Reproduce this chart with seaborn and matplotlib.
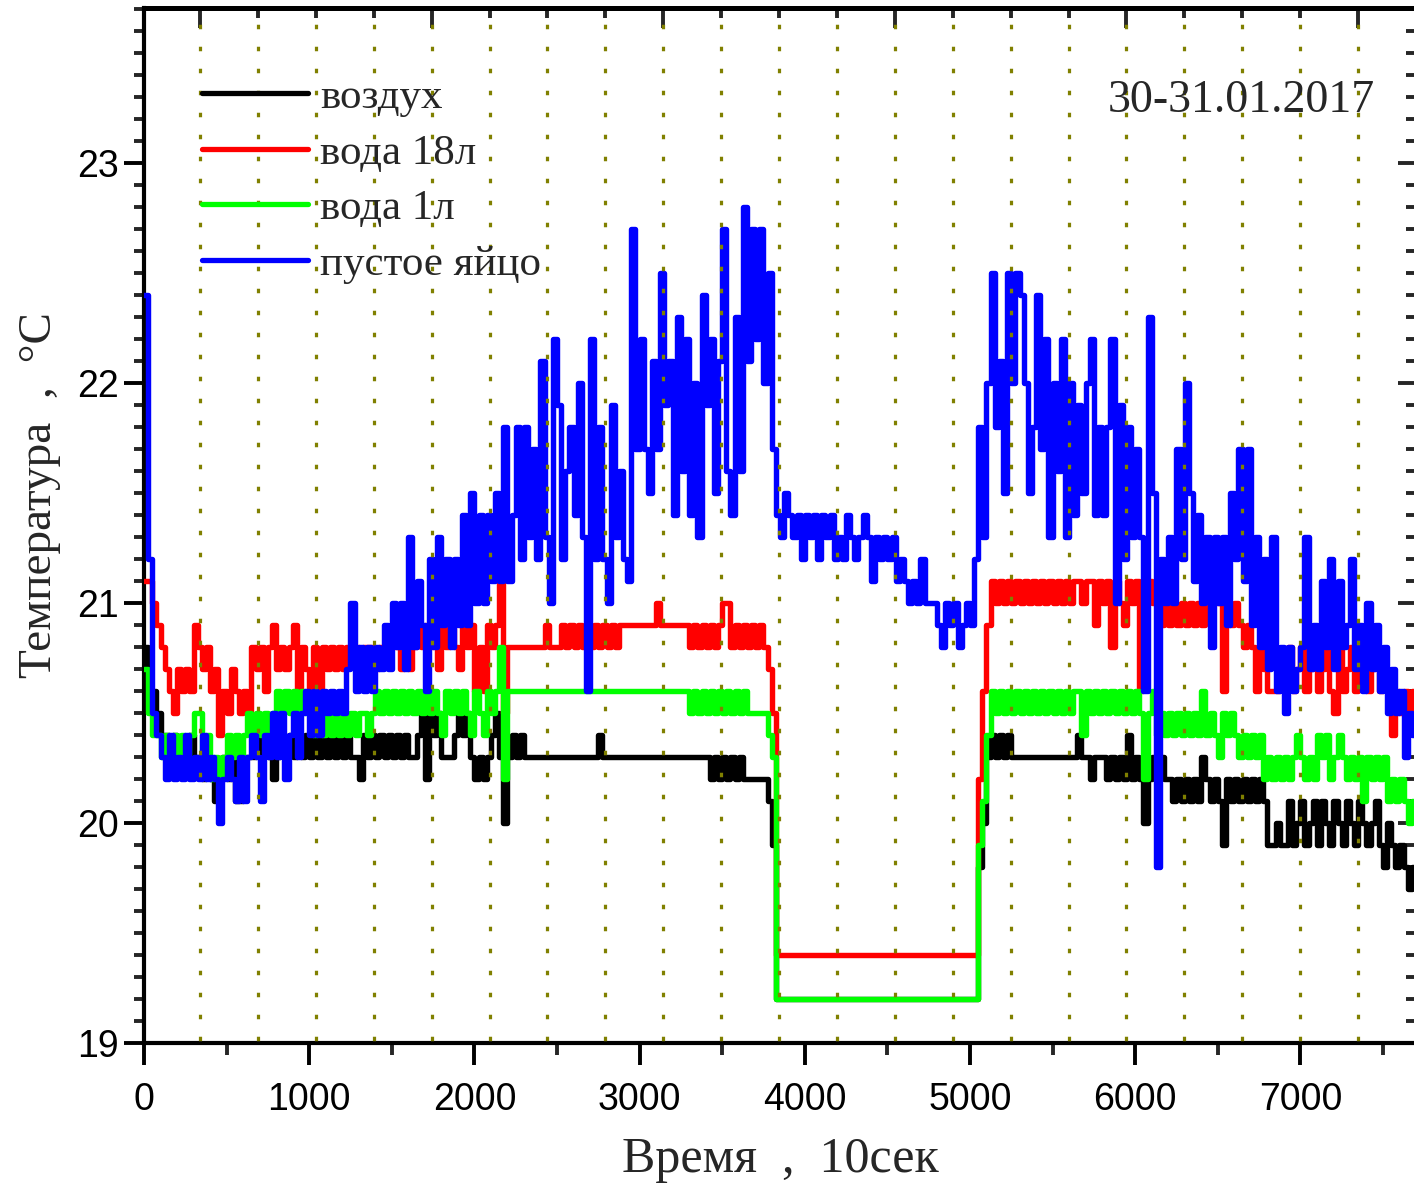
import numpy as np
import pandas as pd
import matplotlib
matplotlib.use("Agg")
import matplotlib.pyplot as plt
import seaborn as sns
from matplotlib.ticker import MultipleLocator, NullFormatter

# ---------------- data (temperatures in tenths of a degree, one sample every 25 units of 10 s) ----------------
STEP = 25

air_tenths = [
    208,206,206,205,204,204,203,204,203,203,203,204,203,203,202,203,202,201,202,203,
    202,203,201,201,203,203,203,204,203,204,203,202,203,204,203,204,203,204,203,204,
    203,204,203,204,203,204,203,204,203,204,203,203,202,204,203,204,203,204,203,204,
    203,204,203,204,203,203,204,205,202,205,204,205,203,203,203,204,205,204,205,203,
    202,203,202,203,204,205,203,200,203,204,203,204,203,203,203,203,203,203,203,203,
    203,203,203,203,203,203,203,203,203,203,204,203,203,203,203,203,203,203,203,203,
    203,203,203,203,203,203,203,203,203,203,203,203,203,203,203,203,203,202,203,202,
    203,202,203,202,203,202,202,202,202,202,202,201,199,192,192,192,192,192,192,192,
    192,192,192,192,192,192,192,192,192,192,192,192,192,192,192,192,192,192,192,192,
    192,192,192,192,192,192,192,192,192,192,192,192,192,192,192,192,192,192,192,192,
    192,192,198,200,203,204,203,204,203,204,203,203,203,203,203,203,203,203,203,203,
    203,203,203,203,203,203,204,203,203,202,203,203,203,202,203,202,203,202,204,202,
    203,202,200,202,203,202,203,202,202,201,202,201,202,201,202,201,203,202,201,202,
    201,199,202,201,202,201,202,201,202,201,202,201,199,199,200,199,199,201,199,200,
    201,199,200,201,199,201,200,199,201,200,199,201,200,199,201,200,199,200,201,199,
    198,200,199,198,199,198,197,198,197,
]

water18_tenths = [
    211,211,210,209,208,207,206,205,207,206,207,206,209,208,207,208,206,207,204,206,
    205,207,206,205,206,205,208,207,208,206,208,209,207,208,207,208,209,206,208,207,
    206,208,206,208,207,208,207,208,207,208,208,208,207,208,208,208,207,208,208,208,
    208,208,207,208,207,208,209,208,209,208,209,207,209,208,209,208,207,209,208,209,
    206,208,206,209,208,209,211,205,208,208,208,208,208,208,208,208,208,209,208,208,
    208,209,208,209,208,209,208,209,208,209,208,209,208,209,208,209,209,209,209,209,
    209,209,209,209,210,209,209,209,209,209,209,209,208,209,208,209,208,209,208,209,
    210,210,208,209,208,209,208,209,208,209,208,207,205,194,194,194,194,194,194,194,
    194,194,194,194,194,194,194,194,194,194,194,194,194,194,194,194,194,194,194,194,
    194,194,194,194,194,194,194,194,194,194,194,194,194,194,194,194,194,194,194,194,
    194,194,202,206,209,211,210,211,210,211,210,211,210,211,210,211,210,211,210,211,
    210,211,210,211,210,211,211,210,211,211,209,211,210,211,208,211,210,209,211,210,
    211,206,210,211,210,210,209,210,209,210,209,210,209,210,209,210,209,210,210,210,
    210,206,210,209,210,209,208,209,208,206,208,207,206,206,206,207,206,208,206,207,
    208,206,207,208,206,207,208,206,205,208,206,207,208,206,207,208,206,207,208,206,
    207,206,204,206,205,206,205,206,205,
]

water1_tenths = [
    207,205,204,204,203,204,203,204,203,204,203,204,205,205,203,204,202,203,202,203,
    204,203,204,203,204,205,204,205,204,205,204,205,206,205,206,205,206,205,206,205,
    205,204,205,204,205,204,205,204,205,204,205,204,205,205,204,205,206,205,206,205,
    206,205,206,205,206,205,206,205,206,205,206,205,204,206,205,206,205,206,205,204,
    206,205,204,206,205,206,208,202,206,206,206,206,206,206,206,206,206,206,206,206,
    206,206,206,206,206,206,206,206,206,206,206,206,206,206,206,206,206,206,206,206,
    206,206,206,206,206,206,206,206,206,206,206,206,205,206,205,206,205,206,205,206,
    205,206,205,206,205,206,205,205,205,205,205,204,203,192,192,192,192,192,192,192,
    192,192,192,192,192,192,192,192,192,192,192,192,192,192,192,192,192,192,192,192,
    192,192,192,192,192,192,192,192,192,192,192,192,192,192,192,192,192,192,192,192,
    192,192,199,201,204,206,205,206,205,206,205,206,205,206,205,206,205,206,205,206,
    205,206,205,206,205,206,206,204,206,205,206,205,206,205,206,205,206,205,206,205,
    206,205,202,205,206,204,205,204,205,204,205,204,205,204,205,204,206,204,205,204,
    203,205,204,205,204,203,204,203,204,203,204,202,203,202,203,202,203,202,203,204,
    203,202,203,202,204,203,204,202,203,204,203,202,203,202,203,201,203,202,203,202,
    203,201,202,201,202,201,200,201,201,
]

egg_tenths = [
    224,212,205,204,203,202,204,202,203,202,204,202,203,202,204,202,203,202,200,202,
    203,202,201,203,201,203,204,203,201,204,203,205,203,205,202,204,205,203,205,206,
    204,206,204,206,205,206,205,206,205,207,210,206,208,206,208,206,208,207,209,207,
    210,208,210,207,213,208,211,209,206,212,208,213,209,212,208,212,209,214,209,215,
    210,214,210,214,211,215,211,218,211,214,218,212,218,213,217,212,221,213,210,222,
    219,212,216,218,214,220,213,206,222,212,218,212,210,219,213,216,212,211,227,217,
    222,217,215,221,217,225,219,221,214,223,216,222,214,220,213,224,219,222,215,221,
    227,216,214,223,216,228,221,227,222,227,220,225,217,214,213,215,214,213,214,212,
    214,213,214,212,214,213,214,212,213,212,214,213,212,213,214,213,211,213,212,213,
    212,213,211,212,211,210,211,210,212,210,210,210,209,208,210,209,210,208,209,210,
    209,212,218,213,220,225,218,221,215,225,220,225,224,220,215,218,224,217,222,213,
    220,216,222,213,220,214,219,215,220,222,214,218,214,218,222,210,219,212,218,213,
    217,213,206,223,215,198,212,210,213,210,217,212,220,215,211,214,210,213,208,213,
    210,213,209,215,212,217,211,217,209,213,208,212,207,213,206,208,205,208,206,207,
    208,213,207,209,207,211,208,212,207,211,208,209,212,207,209,206,210,207,209,206,
    208,205,207,205,206,203,205,204,206,
]

series_labels = ["воздух", "вода 18л", "вода 1л", "пустое яйцо"]
series_colors = ["#000000", "#ff0000", "#00ff00", "#0000ff"]
series_values = [air_tenths, water18_tenths, water1_tenths, egg_tenths]

x_major_ticks = [0, 1000, 2000, 3000, 4000, 5000, 6000, 7000]
y_major_ticks = [19, 20, 21, 22, 23]
x_limits = (0, 7700)
y_limits = (19, 23.705)
hour_start, hour_len = 339.0, 350.5   # top (hour) axis grid
date_text = "30-31.01.2017"
x_title = "Время  ,  10сек"
y_title = "Температура  ,  °C"

# ---------------- figure ----------------
sns.set_theme(style="ticks")
plt.rcParams["font.family"] = ["Liberation Serif", "DejaVu Serif"]
plt.rcParams["lines.scale_dashes"] = False

W, H, DPI = 1414, 1191, 100
fig = plt.figure(figsize=(W / DPI, H / DPI), dpi=DPI)
ax = fig.add_axes([144 / W, (H - 1043) / H, (1416 - 144) / W, (1043 - 8) / H])

frames = []
for lab, vals in zip(series_labels, series_values):
    t = np.arange(len(vals)) * STEP
    frames.append(pd.DataFrame({"time": t, "temp": np.asarray(vals) / 10.0, "series": lab}))
df = pd.concat(frames, ignore_index=True)

for lab, col in zip(series_labels, series_colors):
    sub = df[df["series"] == lab]
    sns.lineplot(data=sub, x="time", y="temp", ax=ax, color=col, lw=3.9,
                 drawstyle="steps-post", estimator=None, errorbar=None, sort=False,
                 label=lab, legend=False, zorder=3)

ax.set_xlim(*x_limits)
ax.set_ylim(*y_limits)

# dotted hour grid (drawn above the data like the original)
hours = hour_start + hour_len * np.arange(21)
px2pt = 72.0 / DPI
period = 22 * px2pt
on = 4.5 * px2pt
ax.vlines(hours, y_limits[0], y_limits[1], colors="#808000", lw=2.3,
          linestyles=[(period - on / 2, (on, period - on))], zorder=5)

# ticks
ax.set_xticks(x_major_ticks)
ax.xaxis.set_minor_locator(MultipleLocator(500))
ax.set_yticks(y_major_ticks)
ax.yaxis.set_minor_locator(MultipleLocator(0.1))
ax.tick_params(axis="x", which="major", direction="out", length=15.8, width=2.8, pad=12,
               labelsize=27, labelfontfamily="Liberation Sans", colors="black")
ax.tick_params(axis="x", which="minor", direction="out", length=8.6, width=2.8)
ax.tick_params(axis="y", which="major", direction="out", length=14.4, width=2.8, pad=4,
               labelsize=27, labelfontfamily="Liberation Sans", colors="black")
ax.tick_params(axis="y", which="minor", direction="out", length=7.2, width=2.8)

for side in ["left", "bottom"]:
    ax.spines[side].set_linewidth(3.0)
    ax.spines[side].set_color("black")
ax.spines["top"].set_linewidth(3.6)
ax.spines["top"].set_color("black")
ax.spines["right"].set_visible(False)

top = ax.secondary_xaxis("top")
top.set_xticks(hours[::4])
top.set_xticks(hours, minor=True)
top.xaxis.set_major_formatter(NullFormatter())
top.tick_params(which="major", direction="in", length=14.4, width=2.8)
top.tick_params(which="minor", direction="in", length=7.2, width=2.8)
top.spines["top"].set_linewidth(3.6)

right = ax.secondary_yaxis("right")
right.set_yticks(y_major_ticks)
right.yaxis.set_minor_locator(MultipleLocator(0.1))
right.yaxis.set_major_formatter(NullFormatter())
right.tick_params(which="major", direction="in", length=13, width=2.8)
right.tick_params(which="minor", direction="in", length=7.2, width=2.8)
right.spines["right"].set_visible(False)

# labels
ax.set_xlabel(x_title, fontsize=36, family="Liberation Serif", va="center")
ax.xaxis.set_label_coords(0.5, -(1160 - 1043) / 1035)
ax.set_ylabel(y_title, fontsize=34, family="Liberation Serif", va="center")
ax.yaxis.set_label_coords((40 - 144) / 1272, 1 - (495 - 8) / 1035)

ax.text((1375 - 144) / 1272, 1 - (101 - 8) / 1035, date_text, transform=ax.transAxes,
        ha="right", va="center", fontsize=33, family="Liberation Serif", zorder=6)

leg = ax.legend(loc="upper left", bbox_to_anchor=((202 - 144) / 1272, 1 - (78 - 8) / 1035),
                frameon=False, prop={"family": "Liberation Serif", "size": 31},
                handlelength=2.46, handletextpad=0.28, labelspacing=0.38,
                borderpad=0, borderaxespad=0)
for h in leg.get_lines():
    h.set_linewidth(3.8)
leg.set_zorder(6)

fig.savefig("out.png", dpi=DPI)
